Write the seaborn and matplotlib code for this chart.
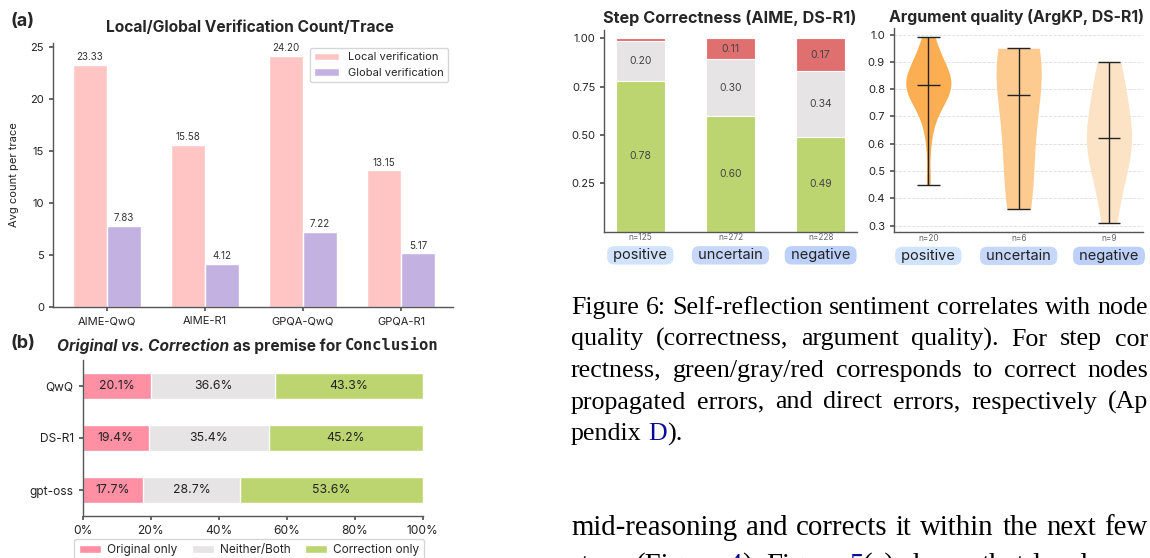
import re
import matplotlib
matplotlib.use('Agg')
import matplotlib.pyplot as plt
from matplotlib.patches import Patch
import numpy as np
import pandas as pd
import seaborn as sns

# ------------------------------------------------------------------
# data
# ------------------------------------------------------------------
datasets = ['AIME-QwQ', 'AIME-R1', 'GPQA-QwQ', 'GPQA-R1']
local_ver = [23.33, 15.58, 24.20, 13.15]
global_ver = [7.83, 4.12, 7.22, 5.17]

models = ['QwQ', 'DS-R1', 'gpt-oss']
orig_only = [20.1, 19.4, 17.7]
neither_both = [36.6, 35.4, 28.7]
corr_only = [43.3, 45.2, 53.6]

sentiments = ['positive', 'uncertain', 'negative']
step_correct = [0.781, 0.596, 0.491]
step_propagated = [0.204, 0.298, 0.339]
step_direct = [0.015, 0.106, 0.170]
step_n = [125, 272, 228]

arg_positive = [0.45, 0.62, 0.70, 0.74, 0.76, 0.78, 0.79, 0.80, 0.81, 0.81,
                0.82, 0.83, 0.84, 0.85, 0.86, 0.88, 0.90, 0.93, 0.96, 0.99]
arg_uncertain = [0.36, 0.50, 0.70, 0.86, 0.93, 0.95]
arg_negative = [0.31, 0.45, 0.55, 0.59, 0.62, 0.66, 0.75, 0.84, 0.90]

# page text next to the figure (visible part only); [x] marks a link, True = justified line
caption_lines = [
    ('Figure 6: Self-reflection sentiment correlates with node', True),
    ('quality (correctness, argument quality).  For step cor', True),
    ('rectness, green/gray/red corresponds to correct nodes', True),
    ('propagated errors, and direct errors, respectively (Ap', True),
    ('pendix [D]).', False),
]
body_lines = [
    ('mid-reasoning and corrects it within the next few', True),
    ('steps (Figure [4]). Figure [5](a) shows that local', False),
]

# ------------------------------------------------------------------
# style
# ------------------------------------------------------------------
sns.set_theme(style='ticks', rc={
    'axes.edgecolor': '#555555', 'axes.linewidth': 1.0,
    'xtick.color': '#555555', 'ytick.color': '#555555',
    'xtick.labelcolor': '#222222', 'ytick.labelcolor': '#222222',
    'xtick.major.size': 3, 'ytick.major.size': 3,
    'xtick.labelsize': 8, 'ytick.labelsize': 8,
})
plt.rcParams['font.family'] = ['Inter', 'DejaVu Sans']

c_local, c_global = '#FFC5C5', '#C3B1E1'
c_orig, c_neither, c_corr = '#FF8FA3', '#E6E4E5', '#BDD571'
c_red = '#E07070'
violin_cols = ['#FCAE52', '#FDCB90', '#FDE3C5']
box_cols = ['#D1E3FD', '#C6D7FA', '#BCD0F9']
link_blue = '#0A0A9A'

W, H = 1150, 558
fig = plt.figure(figsize=(W / 100, H / 100), dpi=100)
renderer = fig.canvas.get_renderer()


def px_axes(left, top, right, bottom):
    return fig.add_axes([left / W, 1 - bottom / H, (right - left) / W, (bottom - top) / H])


def text_width(s, **kw):
    if not s:
        return 0.0
    t = fig.text(0, 0, '|' + s + '|', **kw)
    w1 = t.get_window_extent(renderer).width
    t.set_text('||')
    w0 = t.get_window_extent(renderer).width
    t.remove()
    return w1 - w0


def draw_runs(x, y, runs, ha='left'):
    """ draw text pieces with different styles one after another (pixel coords) """
    widths = [text_width(s, **kw) for s, kw in runs]
    if ha == 'center':
        x -= sum(widths) / 2
    for (s, kw), w in zip(runs, widths):
        lead = len(s) - len(s.lstrip())
        dx = text_width(s[:lead], **kw) if lead else 0
        fig.text((x + dx) / W, 1 - y / H, s.lstrip(), ha='left', va='center', **kw)
        x += w


def draw_line(x0, x1, y, line, justify, **kw):
    """ one line of page text, word by word, optionally justified to x1 """
    words = []
    for w in line.split():
        pieces = []
        for part in re.split(r'(\[[^\]]*\])', w):
            if part.startswith('['):
                pieces.append((part[1:-1], link_blue))
            elif part:
                pieces.append((part, kw.get('color', 'black')))
        words.append(pieces)
    widths = [sum(text_width(p, **{**kw, 'color': c}) for p, c in wd) for wd in words]
    gap = text_width(' ', **kw)
    if justify and len(words) > 1:
        gap = (x1 - x0 - sum(widths)) / (len(words) - 1)
    x = x0
    for wd, w in zip(words, widths):
        xx = x
        for p, c in wd:
            fig.text(xx / W, 1 - y / H, p, ha='left', va='center', **{**kw, 'color': c})
            xx += text_width(p, **{**kw, 'color': c})
        x += w + gap


# ------------------------------------------------------------------
# (a) local / global verification
# ------------------------------------------------------------------
df_a = pd.DataFrame({
    'dataset': datasets * 2,
    'count': local_ver + global_ver,
    'kind': ['Local verification'] * 4 + ['Global verification'] * 4,
})
ax_a = px_axes(53, 43, 453, 307)
sns.barplot(data=df_a, x='dataset', y='count', hue='kind', palette=[c_local, c_global],
            width=0.7, gap=0, saturation=1, ax=ax_a, legend=False)
for cont in ax_a.containers:
    ax_a.bar_label(cont, fmt='%.2f', padding=2, fontsize=7, color='#333333')
ax_a.set_xlim(-0.55, 3.53)
ax_a.set_ylim(0, 25.41)
ax_a.set_yticks([0, 5, 10, 15, 20, 25])
ax_a.set_xlabel('')
ax_a.set_ylabel('Avg count per trace', fontsize=8, color='#222222', labelpad=8)
ax_a.legend(handles=[Patch(facecolor=c_local, label='Local verification'),
                     Patch(facecolor=c_global, label='Global verification')],
            loc='upper right', fontsize=8, frameon=True, edgecolor='#cccccc',
            borderaxespad=0.45, handlelength=2.2)
sns.despine(ax=ax_a)

fig.text(10 / W, 1 - 21 / H, '(a)', fontsize=13, fontweight='bold', va='center')
fig.text(250 / W, 1 - 28 / H, 'Local/Global Verification Count/Trace', fontsize=11.2,
         fontweight='bold', ha='center', va='center')

# ------------------------------------------------------------------
# (b) original vs correction
# ------------------------------------------------------------------
df_b = pd.DataFrame({'model': models, 'orig': orig_only, 'neither': neither_both, 'corr': corr_only})
df_b['upto_neither'] = df_b['orig'] + df_b['neither']
df_b['total'] = df_b['upto_neither'] + df_b['corr']

ax_b = px_axes(82.7, 360, 422.7, 516)
for col, colour in [('total', c_corr), ('upto_neither', c_neither), ('orig', c_orig)]:
    sns.barplot(data=df_b, y='model', x=col, color=colour, width=0.5, saturation=1,
                orient='h', ax=ax_b)
for i in range(len(models)):
    start = 0
    for val in (orig_only[i], neither_both[i], corr_only[i]):
        ax_b.text(start + val / 2, i, f'{val:.1f}%', ha='center', va='center',
                  fontsize=8.8, color='#222222')
        start += val
ax_b.set_xlim(0, 100)
ax_b.set_xticks([0, 20, 40, 60, 80, 100])
ax_b.set_xticklabels([f'{v}%' for v in [0, 20, 40, 60, 80, 100]])
ax_b.tick_params(labelsize=8.6)
ax_b.set_xlabel('')
ax_b.set_ylabel('')
ax_b.legend(handles=[Patch(facecolor=c_orig, label='Original only'),
                     Patch(facecolor=c_neither, label='Neither/Both'),
                     Patch(facecolor=c_corr, label='Correction only')],
            loc='upper center', bbox_to_anchor=(0.49, -0.11), ncol=3, fontsize=8.5,
            frameon=True, edgecolor='#cccccc', handlelength=1.85, handletextpad=0.55,
            columnspacing=1.2)
sns.despine(ax=ax_b)

fig.text(10 / W, 1 - 343 / H, '(b)', fontsize=13, fontweight='bold', va='center')
draw_runs(248, 346, [
    ('Original vs. Correction', dict(fontsize=11.2, fontweight='bold', fontstyle='italic')),
    (' as premise for ', dict(fontsize=11.2, fontweight='bold')),
    ('Conclusion', dict(fontsize=11.2, fontweight='bold', family='DejaVu Sans Mono')),
], ha='center')

# ------------------------------------------------------------------
# step correctness
# ------------------------------------------------------------------
df_s = pd.DataFrame({'sent': sentiments, 'correct': step_correct,
                     'prop': step_propagated, 'direct': step_direct})
df_s['upto_prop'] = df_s['correct'] + df_s['prop']
df_s['total'] = df_s['upto_prop'] + df_s['direct']

ax_s = px_axes(604.3, 30, 856.7, 231.7)
for col, colour in [('total', c_red), ('upto_prop', c_neither), ('correct', c_corr)]:
    sns.barplot(data=df_s, x='sent', y=col, color=colour, width=0.55, saturation=1,
                edgecolor='white', linewidth=0.8, ax=ax_s)
for i in range(len(sentiments)):
    start = 0
    for val in (step_correct[i], step_propagated[i], step_direct[i]):
        if val >= 0.05:
            ax_s.text(i, start + val / 2, f'{val:.2f}', ha='center', va='center',
                      fontsize=7.5, color='#444444')
        start += val
ax_s.set_ylim(0, 1.043)
ax_s.set_xlim(-0.4, 2.4)
ax_s.set_yticks([0.25, 0.5, 0.75, 1.0])
ax_s.set_yticklabels(['0.25', '0.50', '0.75', '1.00'])
ax_s.set_xlabel('')
ax_s.set_ylabel('')
fig.text(730 / W, 1 - 18 / H, 'Step Correctness (AIME, DS-R1)', fontsize=11.7,
         fontweight='bold', ha='center', va='center')

# ------------------------------------------------------------------
# argument quality violins
# ------------------------------------------------------------------
arg_groups = [arg_positive, arg_uncertain, arg_negative]
df_v = pd.DataFrame({
    'sent': sum([[s] * len(g) for s, g in zip(sentiments, arg_groups)], []),
    'score': sum(arg_groups, []),
})
ax_v = px_axes(894, 28, 1143.3, 232.3)
ax_v.yaxis.grid(True, linestyle='--', color='#dddddd', linewidth=0.6)
ax_v.set_axisbelow(True)
sns.violinplot(data=df_v, x='sent', y='score', hue='sent', palette=violin_cols, cut=0,
               inner=None, density_norm='width', width=0.5, linewidth=0, saturation=1,
               legend=False, ax=ax_v)
for i, g in enumerate(arg_groups):
    lo, hi, med = min(g), max(g), float(np.median(g))
    ax_v.vlines(i, lo, hi, color='#222222', lw=1.0)
    ax_v.hlines([lo, hi, med], i - 0.125, i + 0.125, color='#222222', lw=1.0)
all_scores = sum(arg_groups, [])
span = max(all_scores) - min(all_scores)
ax_v.set_ylim(min(all_scores) - 0.05 * span, max(all_scores) + 0.05 * span)
ax_v.set_xlim(-0.38, 2.38)
ax_v.set_yticks([0.3, 0.4, 0.5, 0.6, 0.7, 0.8, 0.9, 1.0])
ax_v.set_xlabel('')
ax_v.set_ylabel('')
fig.text(1016 / W, 1 - 17 / H, 'Argument quality (ArgKP, DS-R1)', fontsize=11.4,
         fontweight='bold', ha='center', va='center')

# counts + sentiment tags under both right panels
arg_n = [len(g) for g in arg_groups]
for ax, counts in [(ax_s, step_n), (ax_v, arg_n)]:
    sns.despine(ax=ax)
    ax.tick_params(axis='x', length=0, labelbottom=False)
    for i, (s, n) in enumerate(zip(sentiments, counts)):
        ax.annotate(f'n={n}', xy=(i, 0), xycoords=('data', 'axes fraction'),
                    xytext=(0, -4.5), textcoords='offset points', ha='center',
                    va='center', fontsize=6, color='#666666')
        ax.annotate(' ' + s + ' ', xy=(i, 0), xycoords=('data', 'axes fraction'),
                    xytext=(0, -17), textcoords='offset points', ha='center',
                    va='center', fontsize=10.5, color='#222222',
                    bbox=dict(boxstyle='round,pad=0.15,rounding_size=0.5',
                              fc=box_cols[i], ec='none'))

# ------------------------------------------------------------------
# caption / body text of the page
# ------------------------------------------------------------------
cap_font = dict(fontsize=18.7, family='Liberation Serif', color='black')
body_font = dict(fontsize=20.8, family='Liberation Serif', color='black')
for k, (line, just) in enumerate(caption_lines):
    draw_line(571, 1148, 308 + 31.5 * k, line, just, **cap_font)
for k, (line, just) in enumerate(body_lines):
    draw_line(571, 1148, 528 + 38 * k, line, just, **body_font)

fig.savefig('out.png', dpi=100)
